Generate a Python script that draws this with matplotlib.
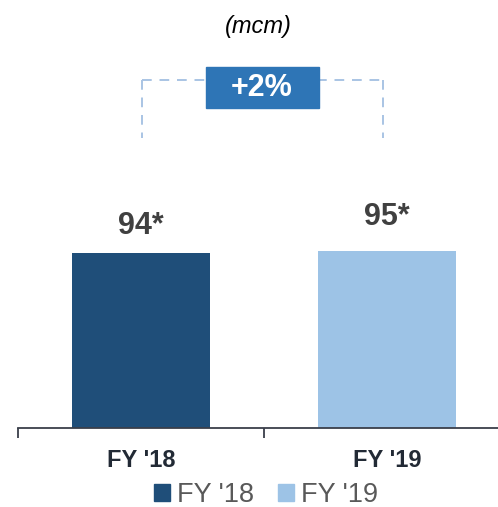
import matplotlib.pyplot as plt
import numpy as np

categories = ["FY '18", "FY '19"]
values = [94, 95]
value_labels = ["94*", "95*"]
change_label = "+2%"
unit_label = "(mcm)"
colors = ["#1f4e79", "#9dc3e6"]

W, H = 498, 507
fig = plt.figure(figsize=(W / 100, H / 100), dpi=100)
plt.rcParams['font.family'] = ['Liberation Sans', 'DejaVu Sans']

# axes: bottom edge at axis line (y=428 px), spans to the top of the figure
base_px = 428
ax = fig.add_axes([0, 1 - base_px / H, 1, base_px / H])
px_per_unit = 175 / 94.0
ax.set_ylim(0, base_px / px_per_unit)
cat_px = 246.0
ax.set_xlim(-0.5 - 18 / cat_px, -0.5 + (W - 18) / cat_px)

x = np.arange(len(categories))
ax.bar(x, values, width=0.557, color=colors, zorder=2)

for xi, v, lab, dy in zip(x, values, value_labels, [14.5, 18.5]):
    ax.text(xi, v + dy, lab, ha='center', va='center', fontsize=22,
            fontweight='bold', color='#404040')

# spines / ticks
for s in ['top', 'left', 'right']:
    ax.spines[s].set_visible(False)
ax.spines['bottom'].set_color('#3a3f4a')
ax.spines['bottom'].set_linewidth(1.3)
ax.spines['bottom'].set_bounds(-0.5, ax.get_xlim()[1])
ax.set_yticks([])
ax.set_xticks(x)
ax.set_xticklabels(categories, fontsize=17, fontweight='bold', color='#222a35')
ax.tick_params(axis='x', which='major', length=0, pad=15)
ax.set_xticks([-0.5, 0.5], minor=True)
ax.tick_params(axis='x', which='minor', length=7, width=1.3, color='#3a3f4a')

# bracket
y_top = (base_px - 80) / px_per_unit
y_bot = (base_px - 138) / px_per_unit
xl, xr = 0.005, 0.985
dash = dict(color='#a9c4e4', lw=1.4, linestyle=(0, (5, 4)))
ax.plot([xl, xr], [y_top, y_top], **dash)
ax.plot([xl, xl], [y_top, y_bot], **dash)
ax.plot([xr, xr], [y_top, y_bot], **dash)

# change box
bx0 = (206 - 141.5) / cat_px
bx1 = (319 - 141.5) / cat_px
by0 = (base_px - 108) / px_per_unit
by1 = (base_px - 67) / px_per_unit
ax.add_patch(plt.Rectangle((bx0, by0), bx1 - bx0, by1 - by0, color='#2e75b6', zorder=3))
ax.text((bx0 + bx1) / 2, (by0 + by1) / 2, change_label, ha='center', va='center',
        fontsize=22, fontweight='bold', color='white', zorder=4)

# unit label
fig.text(258 / W, 1 - 26 / H, unit_label, ha='center', va='center', fontsize=17,
         style='italic', color='black')

# legend
handles = [plt.Rectangle((0, 0), 1, 1, color=c) for c in colors]
leg = fig.legend(handles, categories, loc='center', bbox_to_anchor=(266 / W, 1 - 495 / H),
                 ncol=2, frameon=False, fontsize=19.5, handlelength=0.6, handleheight=0.6,
                 handletextpad=0.25, columnspacing=0.9)
for t in leg.get_texts():
    t.set_color('#595959')

fig.savefig('out.png', dpi=100)
